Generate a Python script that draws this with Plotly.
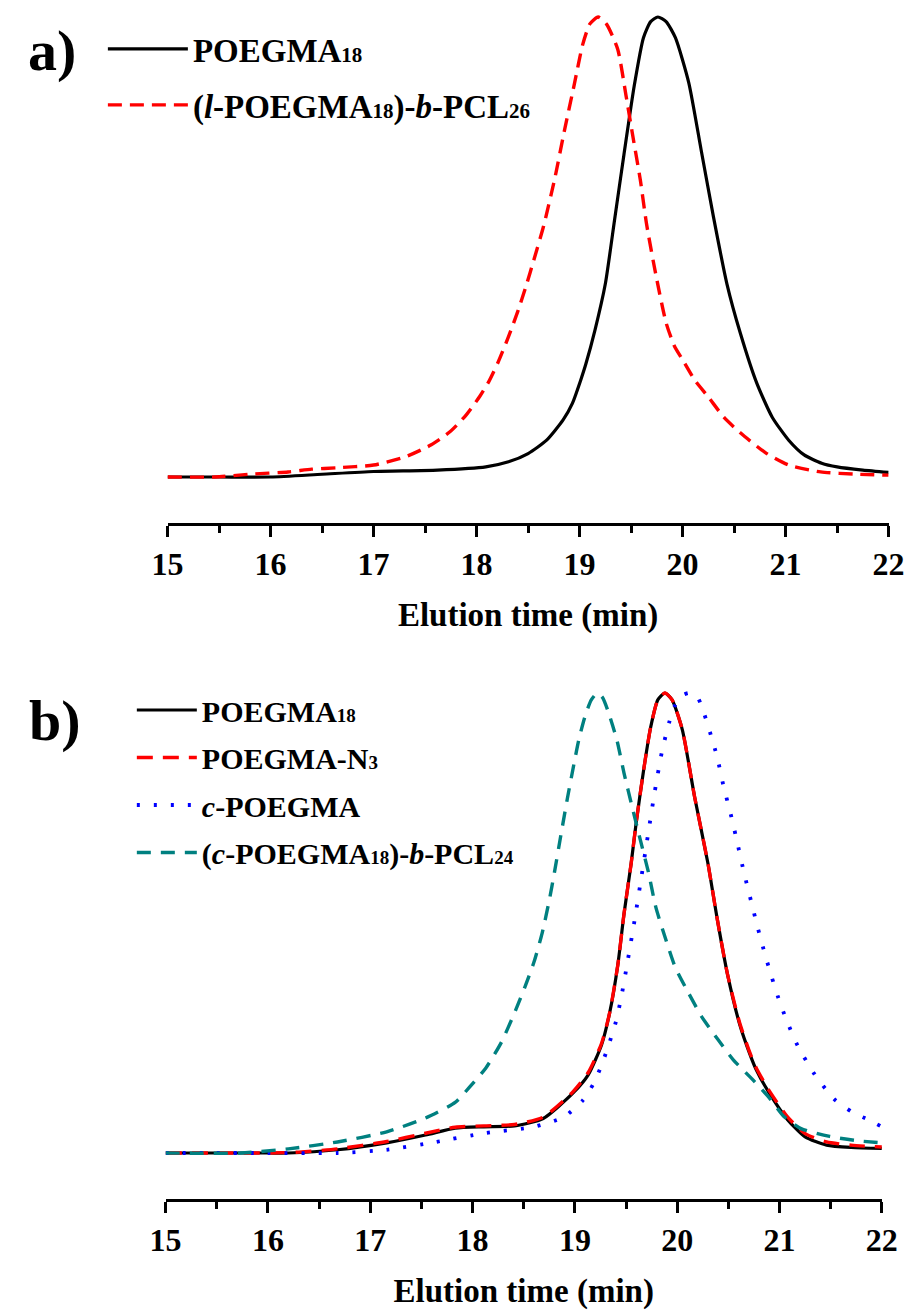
import plotly.graph_objects as go

# ---------------- data (normalised detector response) ----------------
# Panel a
a_poegma_t = [15.0, 15.5, 16.0, 16.5, 17.0, 17.62, 18.09, 18.31, 18.5, 18.68, 18.84, 18.93, 19.01, 19.06,
              19.15, 19.25, 19.34, 19.43, 19.53, 19.62, 19.69, 19.76, 19.84, 19.93, 20.06, 20.18, 20.30,
              20.43, 20.56, 20.72, 20.87, 21.03, 21.18, 21.35, 21.5, 21.75, 22.0]
a_poegma_i = [0.0, 0.0, 0.0, 0.006, 0.012, 0.015, 0.022, 0.033, 0.051, 0.08, 0.124, 0.16, 0.21, 0.245,
              0.32, 0.42, 0.56, 0.70, 0.85, 0.955, 0.99, 1.0, 0.99, 0.955, 0.857, 0.711, 0.565,
              0.42, 0.313, 0.204, 0.13, 0.08, 0.048, 0.03, 0.022, 0.015, 0.01]

a_lpcl_t = [15.0, 15.46, 15.8, 16.17, 16.4, 16.64, 17.0, 17.31, 17.56, 17.75, 17.9, 18.03, 18.12, 18.21,
            18.31, 18.4, 18.48, 18.56, 18.65, 18.76, 18.85, 18.95, 19.03, 19.1, 19.18, 19.26, 19.37,
            19.45, 19.51, 19.59, 19.65, 19.74, 19.84, 19.92, 20.0, 20.12, 20.25, 20.4, 20.56, 20.81,
            21.03, 21.34, 21.7, 22.0]
a_lpcl_i = [0.0, 0.0, 0.006, 0.011, 0.017, 0.02, 0.026, 0.044, 0.07, 0.10, 0.135, 0.175, 0.208, 0.25,
            0.305, 0.36, 0.415, 0.475, 0.545, 0.65, 0.75, 0.855, 0.94, 0.985, 1.0, 0.985, 0.93,
            0.83, 0.75, 0.645, 0.55, 0.44, 0.335, 0.285, 0.255, 0.21, 0.174, 0.13, 0.096, 0.052,
            0.026, 0.011, 0.006, 0.004]

# Panel b
b_poegma_t = [15.0, 15.5, 16.0, 16.2, 16.68, 17.16, 17.54, 17.83, 18.11, 18.41, 18.69, 18.98, 19.13,
              19.26, 19.34, 19.42, 19.48, 19.55, 19.6, 19.67, 19.74, 19.81, 19.88, 19.95, 20.05, 20.17,
              20.30, 20.39, 20.49, 20.61, 20.71, 20.77, 20.9, 21.08, 21.25, 21.46, 21.7, 22.0]
b_poegma_i = [0.0, 0.0, 0.0, 0.0, 0.007, 0.022, 0.039, 0.054, 0.057, 0.059, 0.075, 0.13, 0.17,
              0.235, 0.305, 0.41, 0.52, 0.63, 0.72, 0.83, 0.925, 0.985, 1.0, 0.985, 0.92, 0.774,
              0.63, 0.51, 0.39, 0.28, 0.215, 0.182, 0.13, 0.072, 0.035, 0.017, 0.012, 0.01]

b_n3_t = [15.0, 15.5, 16.0, 16.3, 16.68, 17.16, 17.54, 17.83, 18.11, 18.41, 18.69, 18.98, 19.13,
          19.26, 19.34, 19.42, 19.48, 19.55, 19.6, 19.67, 19.74, 19.81, 19.88, 19.95, 20.05, 20.17,
          20.30, 20.39, 20.49, 20.61, 20.71, 20.77, 20.9, 21.08, 21.25, 21.46, 21.7, 22.0]
b_n3_i = [0.0, 0.0, 0.0, 0.002, 0.009, 0.025, 0.043, 0.056, 0.059, 0.062, 0.078, 0.133, 0.175,
          0.238, 0.305, 0.41, 0.52, 0.63, 0.72, 0.83, 0.925, 0.985, 1.0, 0.985, 0.92, 0.774,
          0.63, 0.51, 0.39, 0.283, 0.218, 0.186, 0.135, 0.078, 0.042, 0.024, 0.017, 0.013]

b_cyc_t = [15.0, 16.0, 16.68, 17.16, 17.64, 18.11, 18.6, 18.89, 19.08, 19.18, 19.25, 19.32, 19.4,
           19.45, 19.51, 19.59, 19.65, 19.72, 19.78, 19.85, 19.92, 19.98, 20.05, 20.12, 20.2, 20.26,
           20.32, 20.39, 20.45, 20.53, 20.59, 20.65, 20.73, 20.79, 20.86, 20.92, 20.99, 21.07, 21.18,
           21.34, 21.53, 21.71, 21.87, 22.0]
b_cyc_i = [0.0, 0.0, 0.0, 0.007, 0.024, 0.043, 0.057, 0.078, 0.115, 0.15, 0.185, 0.228, 0.285,
           0.335, 0.41, 0.515, 0.6, 0.7, 0.785, 0.872, 0.935, 0.974, 0.995, 1.0, 0.99, 0.957,
           0.915, 0.861, 0.80, 0.73, 0.672, 0.612, 0.54, 0.487, 0.43, 0.385, 0.336, 0.288, 0.232,
           0.172, 0.118, 0.089, 0.072, 0.057]

b_cpcl_t = [15.0, 15.73, 16.2, 16.68, 17.16, 17.54, 17.83, 17.97, 18.13, 18.28, 18.42, 18.51, 18.6,
            18.68, 18.75, 18.8, 18.87, 18.93, 18.99, 19.04, 19.1, 19.16, 19.22, 19.27, 19.32, 19.41,
            19.48, 19.56, 19.64, 19.72, 19.79, 19.89, 19.98, 20.11, 20.24, 20.4, 20.55, 20.74, 20.9,
            21.04, 21.21, 21.49, 21.75, 22.0]
b_cpcl_i = [0.0, 0.0, 0.009, 0.024, 0.046, 0.076, 0.11, 0.143, 0.185, 0.24, 0.31, 0.36, 0.415,
            0.478, 0.55, 0.61, 0.70, 0.775, 0.845, 0.9, 0.95, 0.985, 1.0, 0.99, 0.963, 0.898,
            0.826, 0.752, 0.68, 0.609, 0.535, 0.463, 0.404, 0.348, 0.296, 0.246, 0.202, 0.159, 0.12,
            0.08, 0.053, 0.036, 0.027, 0.022]

x_ticks = [15, 16, 17, 18, 19, 20, 21, 22]
x_title = "Elution time (min)"

FONT = "Liberation Serif"
SUB = '<span style="font-size:21px">{}</span>'
SUBB = '<span style="font-size:19px">{}</span>'

lab_a = ["POEGMA" + SUB.format("18"),
         "(<i>l</i>-POEGMA" + SUB.format("18") + ")-<i>b</i>-PCL" + SUB.format("26")]
lab_b = ["POEGMA" + SUBB.format("18"),
         "POEGMA-N" + SUBB.format("3"),
         "<i>c</i>-POEGMA",
         "(<i>c</i>-POEGMA" + SUBB.format("18") + ")-<i>b</i>-PCL" + SUBB.format("24")]

W, H = 922, 1316

fig = go.Figure()

def add(t, i, name, color, dash, width, xa, ya, legend, grp):
    fig.add_trace(go.Scatter(
        x=t, y=i, mode="lines", name=name,
        line=dict(color=color, dash=dash, width=width, shape="spline", smoothing=0.6),
        xaxis=xa, yaxis=ya, legend=legend, legendgroup=grp, showlegend=True,
        hoverinfo="skip"))

add(a_poegma_t, a_poegma_i, lab_a[0], "black", "solid", 3.2, "x", "y", "legend", "a1")
add(a_lpcl_t, a_lpcl_i, lab_a[1], "#ff0000", "14px,8px", 3.4, "x", "y", "legend", "a2")

add(b_poegma_t, b_poegma_i, lab_b[0], "black", "solid", 3.2, "x2", "y2", "legend2", "b1")
add(b_n3_t, b_n3_i, lab_b[1], "#ff0000", "16px,10px", 3.4, "x2", "y2", "legend2", "b2")
add(b_cyc_t, b_cyc_i, lab_b[2], "#0000ff", "3px,14px", 3.8, "x2", "y2", "legend2", "b3")
add(b_cpcl_t, b_cpcl_i, lab_b[3], "#008080", "14px,10px", 3.4, "x2", "y2", "legend2", "b4")

def xaxis(domain, anchor):
    return dict(domain=domain, anchor=anchor, range=[15, 22], tickmode="array", tickvals=x_ticks,
                ticks="outside", ticklen=11, tickwidth=3, tickcolor="black",
                showline=True, linecolor="black", linewidth=3, showgrid=False, zeroline=False,
                minor=dict(dtick=0.5, ticks="outside", ticklen=7, tickwidth=3, tickcolor="black", showgrid=False),
                tickfont=dict(family=FONT, size=32, color="black", weight="bold"),
                title=dict(text=x_title, font=dict(family=FONT, size=33, color="black", weight="bold"),
                           standoff=22),
                fixedrange=True)

def yaxis(domain, anchor):
    return dict(domain=domain, anchor=anchor, range=[-0.1, 1.0152], visible=False,
                showgrid=False, zeroline=False, fixedrange=True)

fig.update_layout(
    width=W, height=H, margin=dict(l=0, r=0, t=0, b=0, pad=0),
    paper_bgcolor="white", plot_bgcolor="white",
    xaxis=xaxis([157 / W, 904 / W], "y"),
    yaxis=yaxis([1 - 523 / H, 1 - 10 / H], "x"),
    xaxis2=xaxis([155 / W, 897 / W], "y2"),
    yaxis2=yaxis([1 - 1199 / H, 1 - 686 / H], "x2"),
    legend=dict(x=90 / W, y=1 - 21 / H, xanchor="left", yanchor="top",
                bgcolor="rgba(0,0,0,0)", itemwidth=80, tracegroupgap=10,
                font=dict(family=FONT, size=33, color="black", weight="bold")),
    legend2=dict(x=120 / W, y=1 - 684 / H, xanchor="left", yanchor="top",
                 bgcolor="rgba(0,0,0,0)", itemwidth=60, tracegroupgap=5.5,
                 font=dict(family=FONT, size=30, color="black", weight="bold")),
    annotations=[
        dict(text="a)", x=37 / W, y=1 - 50 / H, xref="paper", yref="paper", showarrow=False,
             xanchor="center", yanchor="middle",
             font=dict(family=FONT, size=58, color="black", weight="bold")),
        dict(text="b)", x=40 / W, y=1 - 720 / H, xref="paper", yref="paper", showarrow=False,
             xanchor="center", yanchor="middle",
             font=dict(family=FONT, size=58, color="black", weight="bold")),
    ],
)

fig.write_html("out.html")
